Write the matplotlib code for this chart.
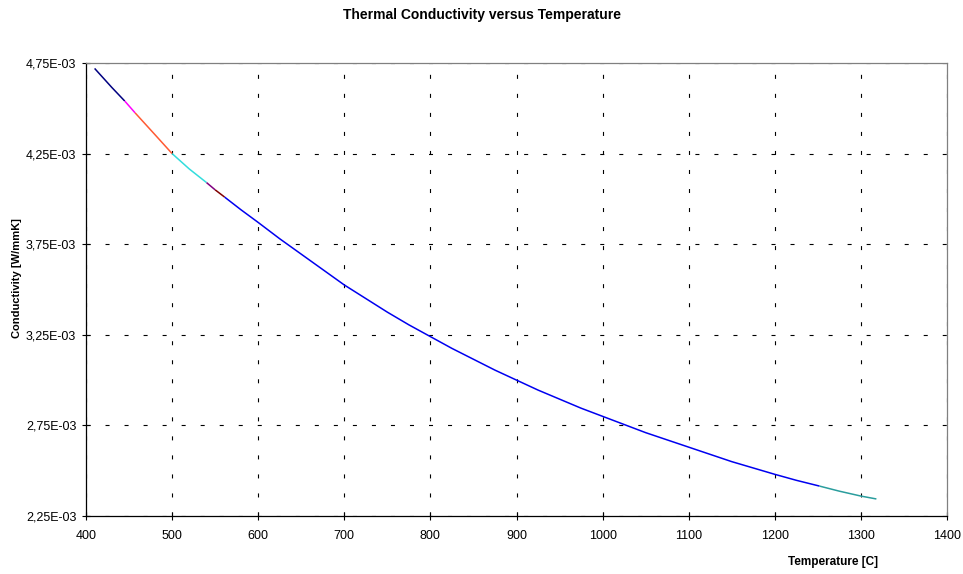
import matplotlib
matplotlib.use("Agg")
import matplotlib.pyplot as plt

plt.rcParams['font.family'] = ['Liberation Sans', 'DejaVu Sans']
plt.rcParams['lines.scale_dashes'] = False

# Conductivity curve, split into the coloured runs it is drawn with
seg_navy_t = [410, 430, 445]
seg_navy_k = [4.72e-3, 4.615e-3, 4.54e-3]
seg_magenta_t = [445, 457]
seg_magenta_k = [4.54e-3, 4.475e-3]
seg_orange_t = [457, 480, 500]
seg_orange_k = [4.475e-3, 4.355e-3, 4.25e-3]
seg_cyan_t = [500, 520, 540]
seg_cyan_k = [4.25e-3, 4.165e-3, 4.09e-3]
seg_purple_t = [540, 550]
seg_purple_k = [4.09e-3, 4.05e-3]
seg_darkred_t = [550, 561]
seg_darkred_k = [4.05e-3, 4.01e-3]
seg_blue_t = [561, 580, 600, 625, 650, 675, 700, 725, 750, 775, 800, 825,
              850, 875, 900, 925, 950, 975, 1000, 1025, 1050, 1075, 1100,
              1125, 1150, 1175, 1200, 1225, 1252]
seg_blue_k = [4.01e-3, 3.94e-3, 3.87e-3, 3.78e-3, 3.695e-3, 3.61e-3,
              3.525e-3, 3.45e-3, 3.375e-3, 3.305e-3, 3.24e-3, 3.175e-3,
              3.115e-3, 3.055e-3, 3.00e-3, 2.945e-3, 2.895e-3, 2.845e-3,
              2.80e-3, 2.755e-3, 2.71e-3, 2.67e-3, 2.63e-3, 2.59e-3,
              2.55e-3, 2.515e-3, 2.48e-3, 2.447e-3, 2.415e-3]
seg_teal_t = [1252, 1275, 1300, 1318]
seg_teal_k = [2.415e-3, 2.387e-3, 2.36e-3, 2.344e-3]

segments = [
    (seg_navy_t, seg_navy_k, '#000080'),
    (seg_magenta_t, seg_magenta_k, '#FF00FF'),
    (seg_orange_t, seg_orange_k, '#FF5A33'),
    (seg_cyan_t, seg_cyan_k, '#33DDDD'),
    (seg_purple_t, seg_purple_k, '#800080'),
    (seg_darkred_t, seg_darkred_k, '#800000'),
    (seg_blue_t, seg_blue_k, '#0000F0'),
    (seg_teal_t, seg_teal_k, '#2A9D9D'),
]

x_ticks = [400, 500, 600, 700, 800, 900, 1000, 1100, 1200, 1300, 1400]
y_ticks = [2.25e-3, 2.75e-3, 3.25e-3, 3.75e-3, 4.25e-3, 4.75e-3]
y_tick_labels = ['2,25E-03', '2,75E-03', '3,25E-03', '3,75E-03', '4,25E-03', '4,75E-03']

fig = plt.figure(figsize=(9.63, 5.74), dpi=100)
ax = fig.add_axes([86 / 963, 1 - 516 / 574, (947 - 86) / 963, (516 - 63) / 574])

for t, k, c in segments:
    ax.plot(t, k, color=c, linewidth=1.1, solid_capstyle='butt', zorder=3)

ax.set_xlim(400, 1400)
ax.set_ylim(2.25e-3, 4.75e-3)
ax.set_xticks(x_ticks)
ax.set_xticklabels([str(v) for v in x_ticks])
ax.set_yticks(y_ticks)
ax.set_yticklabels(y_tick_labels)

ax.grid(True, color='black', linewidth=0.8, linestyle=(0, (2.9, 10.8)))
ax.tick_params(axis='both', direction='inout', length=6, width=0.8,
               labelsize=9, colors='black')
ax.tick_params(axis='x', pad=7)
ax.tick_params(axis='y', pad=4)

for side in ('left', 'bottom'):
    ax.spines[side].set_color('black')
    ax.spines[side].set_linewidth(0.9)
for side in ('top', 'right'):
    ax.spines[side].set_color('#808080')
    ax.spines[side].set_linewidth(0.9)

fig.text(0.5, 1 - 15 / 574, 'Thermal Conductivity versus Temperature',
         ha='center', va='center', fontsize=10, fontweight='bold')
fig.text(833 / 963, 1 - 562 / 574, 'Temperature [C]',
         ha='center', va='center', fontsize=8.5, fontweight='bold')
fig.text(17 / 963, 1 - 278 / 574, 'Conductivity [W/mmK]', rotation=90,
         ha='center', va='center', fontsize=8, fontweight='bold')

fig.savefig('out.png', dpi=100, facecolor='white')
